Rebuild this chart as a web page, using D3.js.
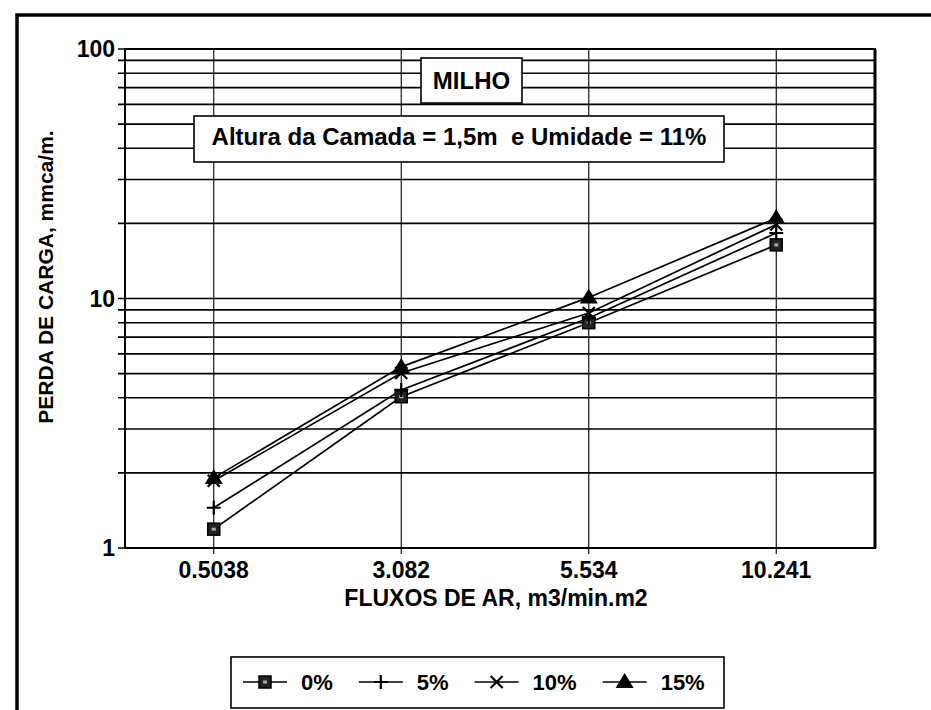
<!DOCTYPE html>
<html><head><meta charset="utf-8">
<script src="https://cdn.jsdelivr.net/npm/d3@7"></script>
<style>
html,body{margin:0;padding:0;background:#fff;}
svg{display:block;font-family:"Liberation Sans",Arial,sans-serif;}
text{white-space:pre;}
</style></head>
<body><svg id="c" width="931" height="710"></svg>
<script>
const categories = ["0.5038", "3.082", "5.534", "10.241"];
const seriesNames = ["0%", "5%", "10%", "15%"];
const values0 = [1.19, 4.04, 8.0, 16.4];
const values5 = [1.45, 4.3, 8.35, 18.3];
const values10 = [1.86, 5.03, 8.75, 19.8];
const values15 = [1.91, 5.32, 10.1, 21.0];
const yTickLabels = ["1", "10", "100"];
const titleText = "MILHO";
const subtitleText = "Altura da Camada = 1,5m  e Umidade = 11%";
const xTitle = "FLUXOS DE AR, m3/min.m2";
const yTitle = "PERDA DE CARGA, mmca/m.";

const series = [
  {name: seriesNames[0], values: values0, sym: "square"},
  {name: seriesNames[1], values: values5, sym: "plus"},
  {name: seriesNames[2], values: values10, sym: "xbar"},
  {name: seriesNames[3], values: values15, sym: "tri"}
];

const svg = d3.select("#c");
const L = 125, R = 875, T = 49, B = 548;

// outer frame
svg.append("rect").attr("x", 17).attr("y", 15).attr("width", 940).attr("height", 720)
  .attr("fill", "none").attr("stroke", "#000").attr("stroke-width", 3.5);

const x = d3.scalePoint().domain(categories).range([120, 870]).padding(0.5);
const y = d3.scaleLog().domain([1, 100]).range([B, T]);

// horizontal grid (1..9, 10..90, 100)
const gridVals = [];
for (let d = 1; d <= 10; d *= 10) for (let k = 1; k <= 9; k++) gridVals.push(k * d);
gridVals.push(100);
svg.append("g").selectAll("line").data(gridVals).join("line")
  .attr("x1", L - 7).attr("x2", R).attr("y1", d => y(d)).attr("y2", d => y(d))
  .attr("stroke", "#000").attr("stroke-width", 1.6);

// vertical grid
svg.append("g").selectAll("line").data(categories).join("line")
  .attr("x1", d => x(d)).attr("x2", d => x(d)).attr("y1", T).attr("y2", B + 6)
  .attr("stroke", "#000").attr("stroke-width", 1.1);

// plot frame
svg.append("rect").attr("x", L).attr("y", T).attr("width", R - L).attr("height", B - T)
  .attr("fill", "none").attr("stroke", "#000").attr("stroke-width", 2);
svg.append("line").attr("x1", R).attr("x2", R).attr("y1", T).attr("y2", B)
  .attr("stroke", "#000").attr("stroke-width", 3);

// y tick labels
svg.append("g").selectAll("text").data(yTickLabels).join("text")
  .attr("x", 115).attr("y", d => y(+d)).attr("dy", "0.36em")
  .attr("text-anchor", "end").attr("font-size", 23).attr("font-weight", "bold")
  .text(d => d);

// x tick labels
svg.append("g").selectAll("text").data(categories).join("text")
  .attr("x", d => x(d)).attr("y", 578).attr("text-anchor", "middle")
  .attr("font-size", 23).attr("font-weight", "bold").text(d => d);

// axis titles
svg.append("text").attr("x", 496).attr("y", 606).attr("text-anchor", "middle")
  .attr("font-size", 23).attr("font-weight", "bold").text(xTitle);
svg.append("text").attr("transform", "translate(53,277) rotate(-90)")
  .attr("text-anchor", "middle").attr("font-size", 21).attr("font-weight", "bold").text(yTitle);

// title boxes
svg.append("rect").attr("x", 421).attr("y", 58).attr("width", 101).attr("height", 45)
  .attr("fill", "#fff").attr("stroke", "#000").attr("stroke-width", 1.6);
svg.append("text").attr("x", 471.5).attr("y", 89).attr("text-anchor", "middle")
  .attr("font-size", 24).attr("font-weight", "bold").text(titleText);
svg.append("rect").attr("x", 194).attr("y", 116).attr("width", 530).attr("height", 46)
  .attr("fill", "#fff").attr("stroke", "#000").attr("stroke-width", 1.6);
svg.append("text").attr("x", 459).attr("y", 145).attr("text-anchor", "middle")
  .attr("font-size", 24).attr("font-weight", "bold").text(subtitleText);

// markers
function drawMarker(g, sym, cx, cy) {
  if (sym === "square") {
    g.append("rect").attr("x", cx - 6).attr("y", cy - 6).attr("width", 12).attr("height", 12)
      .attr("fill", "#222").attr("stroke", "#000").attr("stroke-width", 1.5);
    g.append("rect").attr("x", cx - 2).attr("y", cy - 1.5).attr("width", 4).attr("height", 3)
      .attr("fill", "#aaa");
  } else if (sym === "plus") {
    g.append("path").attr("d", `M${cx-7},${cy}H${cx+7}M${cx},${cy-7}V${cy+7}`)
      .attr("stroke", "#000").attr("stroke-width", 2.2);
  } else if (sym === "xbar") {
    g.append("path").attr("d", `M${cx-6},${cy-6}L${cx+6},${cy+6}M${cx-6},${cy+6}L${cx+6},${cy-6}`)
      .attr("stroke", "#000").attr("stroke-width", 2.2);
  } else if (sym === "tri") {
    g.append("path").attr("d", `M${cx},${cy-9}L${cx+9},${cy+6}L${cx-9},${cy+6}Z`)
      .attr("fill", "#000");
  }
}

const line = d3.line().x((d, i) => x(categories[i])).y(d => y(d));
const gl = svg.append("g");
series.forEach(s => {
  gl.append("path").attr("d", line(s.values)).attr("fill", "none")
    .attr("stroke", "#000").attr("stroke-width", 1.7);
});
series.forEach(s => {
  s.values.forEach((v, i) => drawMarker(gl, s.sym, x(categories[i]), y(v)));
});

// legend
svg.append("rect").attr("x", 231).attr("y", 657).attr("width", 493).attr("height", 51)
  .attr("fill", "#fff").attr("stroke", "#000").attr("stroke-width", 1.6);
const lg = svg.append("g");
let cx = 265;
series.forEach(s => {
  lg.append("line").attr("x1", cx - 22).attr("x2", cx + 22).attr("y1", 682).attr("y2", 682)
    .attr("stroke", "#000").attr("stroke-width", 1.7);
  drawMarker(lg, s.sym, cx, 682);
  const t = lg.append("text").attr("x", cx + 36).attr("y", 690).attr("font-size", 22)
    .attr("font-weight", "bold").text(s.name);
  cx = cx + 36 + t.node().getComputedTextLength() + 48;
});
</script></body></html>
